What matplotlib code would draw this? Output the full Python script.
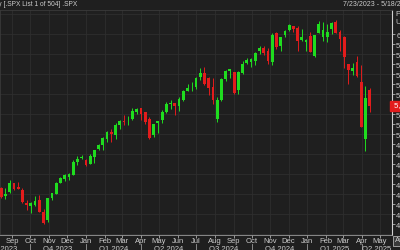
import matplotlib
matplotlib.use("Agg")
import matplotlib.pyplot as plt
import matplotlib.transforms as mtrans
import numpy as np
import pandas as pd

plt.rcParams["font.family"] = ["Liberation Sans", "DejaVu Sans"]

# weekly S&P 500 candles, Aug 2023 -> Apr 2025
opens = [4458, 4380, 4420, 4510, 4474, 4445, 4310, 4284, 4290, 4342, 4225, 4139,
         4365, 4407, 4513, 4555, 4569, 4593, 4725, 4758,
         4745, 4703, 4772, 4853, 4892, 4950, 5026, 4989, 5093, 5131, 5111, 5154, 5219,
         5258, 5217, 5149, 4988, 5115, 5142, 5221, 5305, 5315, 5283, 5341, 5431, 5460,
         5472, 5572, 5614, 5565, 5476, 5151, 5345, 5557, 5637, 5623, 5442, 5615, 5712,
         5726, 5737, 5829, 5857, 5833, 5723, 6008, 5878, 5992, 6040, 6083, 6063, 5940, 5920,
         5982, 5782, 6014, 5970, 5970, 6048, 6121, 6026, 5968, 5705, 5635, 5718, 5527,
         4953, 5441]
highs = [4474, 4458, 4541, 4515, 4527, 4466, 4339, 4319, 4385, 4393, 4256, 4366,
         4415, 4520, 4568, 4598, 4609, 4738, 4778, 4793,
         4755, 4803, 4842, 4903, 4975, 5030, 5048, 5111, 5140, 5189, 5179, 5261, 5264,
         5264, 5223, 5168, 5103, 5123, 5239, 5325, 5342, 5315, 5375, 5447, 5505, 5524,
         5570, 5667, 5670, 5570, 5566, 5370, 5564, 5643, 5651, 5623, 5636, 5733, 5767,
         5765, 5822, 5879, 5878, 5863, 6012, 6018, 5973, 6044, 6099, 6085, 6085, 6050, 5949,
         6021, 5986, 6128, 6120, 6101, 6127, 6147, 6044, 5986, 5706, 5715, 5786, 5696,
         5481, 5459]
lows = [4365, 4356, 4414, 4443, 4448, 4316, 4238, 4216, 4284, 4223, 4103, 4127,
        4343, 4401, 4511, 4537, 4547, 4593, 4695, 4751,
        4682, 4699, 4714, 4845, 4845, 4919, 4920, 4953, 5057, 5096, 5091, 5140, 5203,
        5146, 5107, 4953, 4972, 5012, 5115, 5211, 5257, 5191, 5234, 5331, 5428, 5433,
        5448, 5546, 5497, 5391, 5306, 5120, 5331, 5537, 5560, 5402, 5406, 5602, 5703,
        5675, 5696, 5805, 5796, 5702, 5696, 5853, 5830, 5975, 6030, 6024, 5832, 5930, 5829,
        5818, 5773, 6012, 5933, 5923, 6004, 6008, 5837, 5666, 5505, 5597, 5572, 5069,
        4835, 5220]
closes = [4370, 4406, 4516, 4457, 4450, 4320, 4288, 4309, 4328, 4224, 4117, 4358,
          4415, 4514, 4559, 4595, 4604, 4719, 4755, 4770,
          4697, 4784, 4840, 4891, 4959, 5027, 5006, 5089, 5137, 5124, 5117, 5234, 5254,
          5204, 5123, 4967, 5100, 5128, 5223, 5303, 5305, 5278, 5347, 5432, 5465, 5460,
          5567, 5615, 5505, 5459, 5347, 5344, 5554, 5634, 5648, 5408, 5626, 5703, 5738,
          5751, 5815, 5865, 5808, 5729, 5996, 5870, 5969, 6032, 6090, 6051, 5931, 5970, 5942,
          5827, 5997, 6101, 6041, 6026, 6115, 6013, 5955, 5770, 5639, 5667, 5581, 5074,
          5363, 5283]
weeks = pd.date_range("2023-08-14", periods=len(closes), freq="W-MON")

month_names = ["Sep", "Oct", "Nov", "Dec", "Jan", "Feb", "Mar", "Apr", "May", "Jun", "Jul",
               "Aug", "Sep", "Oct", "Nov", "Dec", "Jan", "Feb", "Mar", "Apr", "May"]
month_starts = pd.date_range("2023-09-01", periods=len(month_names), freq="MS")
quarter_names = ["Q3 2023", "Q4 2023", "Q1 2024", "Q2 2024", "Q3 2024", "Q4 2024", "Q1 2025", "Q2 2025"]
quarter_starts = pd.date_range("2023-07-01", periods=len(quarter_names), freq="QS")
price_ticks = list(range(4100, 6001, 100))
grid_levels = list(range(4000, 6201, 200))

bg = "#1f1f1f"
gridc = "#2e2e2e"
txt = "#cccccc"
up = "#1fdc1f"
down = "#e21c1c"

fig = plt.figure(figsize=(4, 2.5), dpi=100, facecolor=bg)
ax = fig.add_axes([0, 0.06, 0.98, 0.90], facecolor=bg)

x0 = pd.Timestamp("2023-08-12")
x1 = pd.Timestamp("2025-05-21")
ax.set_xlim(x0, x1)
ax.set_ylim(3992, 6242)

# grid
for lv in grid_levels:
    ax.axhline(lv, color=gridc, lw=0.6, zorder=0)
for m in month_starts:
    ax.axvline(m, color=gridc, lw=0.6, zorder=0)

# candles
o = np.array(opens); h = np.array(highs); l = np.array(lows); c = np.array(closes)
cols = [up if cc >= oo else down for oo, cc in zip(o, c)]
ax.vlines(weeks, l, h, colors=cols, lw=0.7, zorder=2)
body_lo = np.minimum(o, c)
body_h = np.maximum(np.abs(c - o), 6)
ax.bar(weeks, body_h, bottom=body_lo, width=4.6, color=cols, zorder=3, linewidth=0)

# right price axis
ax.yaxis.tick_right()
ax.set_yticks(price_ticks)
ax.set_yticklabels([f"{p:,}" for p in price_ticks])
ax.tick_params(axis="y", colors=txt, labelsize=5.5, length=2, pad=1, width=0.5)

# bottom month axis
ax.set_xticks(month_starts)
ax.set_xticklabels(month_names)
ax.tick_params(axis="x", colors=txt, labelsize=5.5, length=2, pad=0.5, width=0.5)

for s in ["left", "top"]:
    ax.spines[s].set_color("#3a3a3a")
    ax.spines[s].set_linewidth(0.6)
ax.spines["right"].set_color("#d0d0d0")
ax.spines["bottom"].set_color("#9a9a9a")
ax.spines["right"].set_linewidth(0.8)
ax.spines["bottom"].set_linewidth(0.6)

# quarter row
tr = ax.get_xaxis_transform()
for qn, qs in zip(quarter_names, quarter_starts):
    qe = qs + pd.offsets.QuarterBegin(startingMonth=1)
    a = max(qs, x0 - pd.Timedelta(days=60))
    b = min(qe, x1)
    mid = a + (b - a) / 2
    ax.text(mid, -0.066, qn, transform=tr, ha="center", va="center",
            fontsize=5.5, color=txt, clip_on=False)
    if qs > x0:
        ax.plot([qs, qs], [-0.04, -0.09], transform=tr, color="#9a9a9a",
                lw=0.6, clip_on=False)

# last price marker
last = closes[-1]
trp = mtrans.blended_transform_factory(ax.transAxes, ax.transData)
ax.text(1.0, last, f" {last:,}", transform=trp, ha="left", va="center", fontsize=5.5,
        color="white", clip_on=False, zorder=10,
        bbox=dict(boxstyle="square,pad=0.2", facecolor=down, edgecolor=down))

# header texts
fig.text(77 / 400, 1 - 5 / 250, "Weekly [.SPX List 1 of 504] .SPX", ha="right", va="center",
         fontsize=4.8, color=txt)
fig.text(343 / 400, 1 - 5 / 250, "7/23/2023 - 5/18/2025", ha="left", va="center",
         fontsize=5, color=txt)
fig.text(395 / 400, 1 - 14 / 250, "Price", ha="left", va="center", fontsize=5.5, color=txt)
fig.text(395 / 400, 1 - 23 / 250, "USD", ha="left", va="center", fontsize=5.5, color=txt)
fig.text(394.5 / 400, 1 - 241 / 250, "Auto", ha="left", va="center", fontsize=5.5, color=txt,
         bbox=dict(boxstyle="square,pad=0.2", facecolor="#3a3a3a", edgecolor="#b0b0b0", lw=0.6))

fig.savefig("out.png", dpi=100, facecolor=bg)
